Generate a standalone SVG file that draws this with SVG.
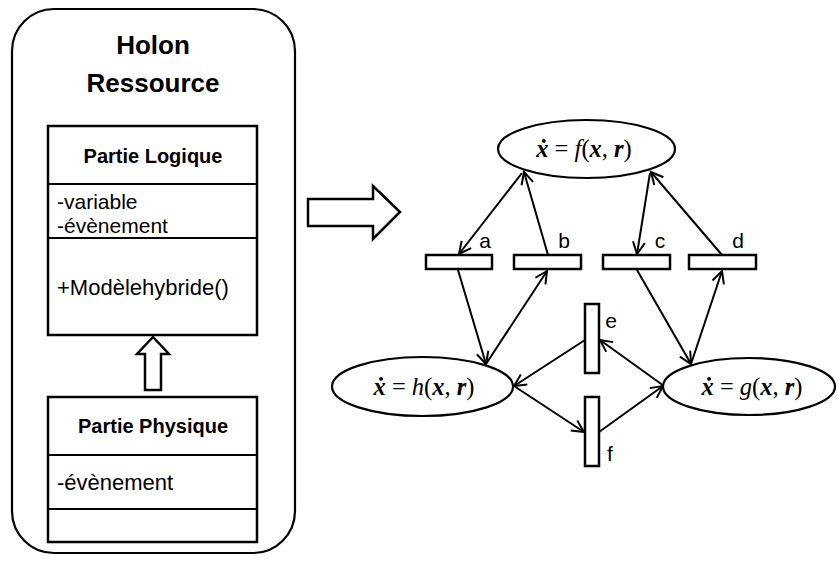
<svg xmlns="http://www.w3.org/2000/svg" width="838" height="561" viewBox="0 0 838 561">
<style>
.s{fill:none;stroke:#000;stroke-width:2.2}
.w{fill:#fff;stroke:#000;stroke-width:2.5}
.t{font-family:"Liberation Sans",Arial,sans-serif;fill:#000}
.b{font-weight:bold}
.m{font-family:"Liberation Serif","Times New Roman",serif;font-size:24.5px;fill:#000}
.e{fill:#fff;stroke:#000;stroke-width:2.2}
.c{fill:none;stroke:#000;stroke-width:2;marker-end:url(#ah)}
</style>
<defs>
<marker id="ah" markerWidth="16" markerHeight="16" refX="13" refY="7" orient="auto" markerUnits="userSpaceOnUse">
<path d="M1,1 L13,7 L1,13" fill="none" stroke="#000" stroke-width="2"/>
</marker>
</defs>
<g id="holon">
<rect x="12" y="9" width="283" height="544" rx="42" ry="42" class="s"/>
<text class="t b" x="153" y="54" font-size="26" text-anchor="middle">Holon</text>
<text class="t b" x="153" y="92" font-size="26" text-anchor="middle">Ressource</text>
</g>
<g id="partie-logique">
<rect x="48" y="126" width="209" height="209" class="w"/>
<line x1="48" y1="184" x2="257" y2="184" class="s" stroke-width="2.5"/>
<line x1="48" y1="238" x2="257" y2="238" class="s" stroke-width="2.5"/>
<text class="t b" x="153" y="163" font-size="20" text-anchor="middle">Partie Logique</text>
<text class="t" x="57" y="208.5" font-size="21">-variable</text>
<text class="t" x="57" y="233" font-size="21">-évènement</text>
<text class="t" x="57" y="295" font-size="22">+Modèlehybride()</text>
</g>
<g id="arrow-up">
<path d="M153,337 L169,354 L161,354 L161,390 L145,390 L145,354 L137,354 Z" class="w" stroke-width="2"/>
</g>
<g id="partie-physique">
<rect x="48" y="397" width="209" height="145" class="w"/>
<line x1="48" y1="455" x2="257" y2="455" class="s" stroke-width="2.5"/>
<line x1="48" y1="509" x2="257" y2="509" class="s" stroke-width="2.5"/>
<text class="t b" x="153" y="433" font-size="20" text-anchor="middle">Partie Physique</text>
<text class="t" x="57" y="490" font-size="22">-évènement</text>
</g>
<g id="arrow-right">
<path d="M308,199 L373,199 L373,186 L400,212 L373,239 L373,226 L308,226 Z" class="w" stroke-width="2"/>
</g>
<g id="connectors">
<line x1="522" y1="173" x2="459" y2="254" class="c"/>
<line x1="548" y1="255" x2="524" y2="172" class="c"/>
<line x1="650" y1="173" x2="637" y2="254" class="c"/>
<line x1="722" y1="255" x2="651" y2="172" class="c"/>
<line x1="458" y1="270" x2="486" y2="364" class="c"/>
<line x1="486" y1="364" x2="547" y2="271" class="c"/>
<line x1="637" y1="270" x2="691" y2="364" class="c"/>
<line x1="691" y1="364" x2="722" y2="271" class="c"/>
<line x1="664" y1="386" x2="600" y2="340" class="c"/>
<line x1="585" y1="340" x2="514" y2="386" class="c"/>
<line x1="514" y1="386" x2="584" y2="432" class="c"/>
<line x1="599" y1="432" x2="663" y2="386" class="c"/>
</g>
<g id="node-f">
<ellipse cx="586.5" cy="149" rx="88.5" ry="29" class="e"/>
<text class="m" x="584" y="157" text-anchor="middle"><tspan font-weight="bold" font-style="italic">ẋ</tspan> = <tspan font-style="italic">f</tspan>(<tspan font-weight="bold" font-style="italic">x</tspan>, <tspan font-weight="bold" font-style="italic">r</tspan>)</text>
</g>
<g id="node-h">
<ellipse cx="422.5" cy="386.5" rx="90.5" ry="29.5" class="e"/>
<text class="m" x="424" y="395" text-anchor="middle"><tspan font-weight="bold" font-style="italic">ẋ</tspan> = <tspan font-style="italic">h</tspan>(<tspan font-weight="bold" font-style="italic">x</tspan>, <tspan font-weight="bold" font-style="italic">r</tspan>)</text>
</g>
<g id="node-g">
<ellipse cx="749" cy="386.5" rx="86" ry="28.5" class="e"/>
<text class="m" x="752" y="395" text-anchor="middle"><tspan font-weight="bold" font-style="italic">ẋ</tspan> = <tspan font-style="italic">g</tspan>(<tspan font-weight="bold" font-style="italic">x</tspan>, <tspan font-weight="bold" font-style="italic">r</tspan>)</text>
</g>
<g id="t-a"><rect x="426" y="255" width="66" height="14" class="w" stroke-width="2.2"/><text class="t" x="485" y="248" font-size="21" text-anchor="middle">a</text></g>
<g id="t-b"><rect x="514" y="255" width="67" height="14" class="w" stroke-width="2.2"/><text class="t" x="564" y="248" font-size="21" text-anchor="middle">b</text></g>
<g id="t-c"><rect x="603" y="255" width="67" height="14" class="w" stroke-width="2.2"/><text class="t" x="660" y="248" font-size="21" text-anchor="middle">c</text></g>
<g id="t-d"><rect x="689" y="255" width="67" height="14" class="w" stroke-width="2.2"/><text class="t" x="738" y="248" font-size="21" text-anchor="middle">d</text></g>
<g id="t-e"><rect x="585" y="304" width="14" height="69" class="w" stroke-width="2.2"/><text class="t" x="611" y="328" font-size="21" text-anchor="middle">e</text></g>
<g id="t-f"><rect x="585" y="397" width="14" height="69" class="w" stroke-width="2.2"/><text class="t" x="610" y="461" font-size="21" text-anchor="middle">f</text></g>
</svg>
